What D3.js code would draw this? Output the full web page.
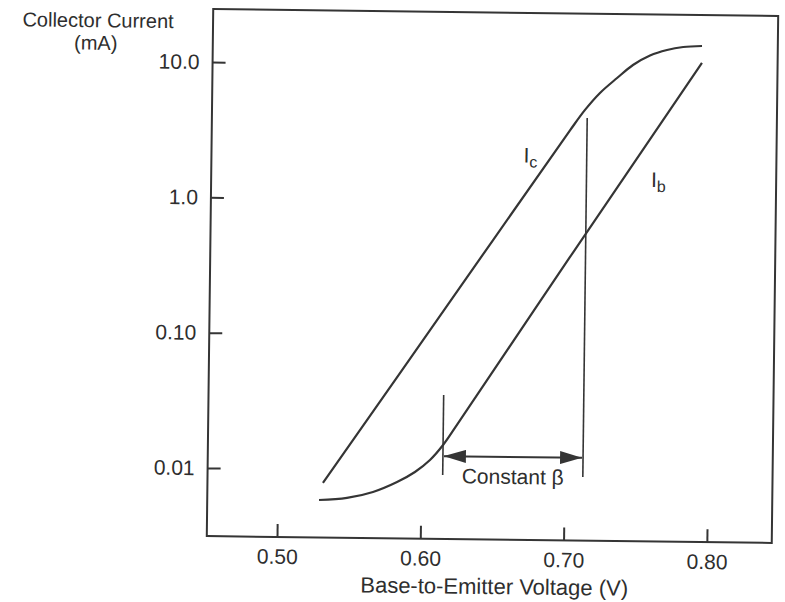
<!DOCTYPE html>
<html>
<head>
<meta charset="utf-8">
<script src="https://cdn.jsdelivr.net/npm/d3@7"></script>
<style>
  html, body { margin: 0; padding: 0; background: #fff; }
  svg { display: block; }
  text { font-family: "Liberation Sans", Arial, Helvetica, sans-serif; fill: #2e2e2e; }
</style>
</head>
<body>
<script>
// Base-emitter voltage (V) and currents (mA) for the two transistor curves
const icVoltage = [0.5316, 0.6187, 0.7010, 0.7113, 0.7216, 0.7334, 0.7444, 0.7562, 0.7680, 0.7793, 0.7924];
const icCurrent = [0.00793, 0.178, 3.366, 4.78, 6.40, 8.28, 10.37, 12.24, 13.49, 14.23, 14.54];

const ibVoltage = [0.5290, 0.5485, 0.5666, 0.5833, 0.5957, 0.6061, 0.6151, 0.6268, 0.7021, 0.7925];
const ibCurrent = [0.00593, 0.00618, 0.00688, 0.00819, 0.00975, 0.01199, 0.01551, 0.0238, 0.3905, 10.89];

// Axis ticks
const xTickValues = [0.50, 0.60, 0.70, 0.80];
const xTickLabels = ["0.50", "0.60", "0.70", "0.80"];
const yTickValues = [0.01, 0.1, 1, 10];
const yTickLabels = ["0.01", "0.10", "1.0", "10.0"];

// Axis extents
const xDomain = [0.4510, 0.8453];
const yDomain = [0.003138, 24.6];

// Constant-beta annotation (voltages of the two markers, currents of their ends)
const betaVoltage = [0.6151, 0.7129];
const betaLeftSpan = [0.00931, 0.0363];
const betaRightSpan = [0.00928, 4.17];
const betaArrowCurrent = 0.01284;

const W = 785, H = 602;
const frame = { left: 210, right: 775, top: 12.5, bottom: 539.5 };
const ink = "#353535";
const font = "'Liberation Sans', Arial, Helvetica, sans-serif";

const svg = d3.select("body").append("svg")
  .attr("width", W).attr("height", H);

const defs = svg.append("defs");
defs.append("marker")
  .attr("id", "head")
  .attr("viewBox", "0 0 22 13")
  .attr("refX", 22).attr("refY", 6.5)
  .attr("markerWidth", 22).attr("markerHeight", 13)
  .attr("markerUnits", "userSpaceOnUse")
  .attr("orient", "auto-start-reverse")
  .append("path")
  .attr("d", "M0,0 L22,6.5 L0,13 Z")
  .attr("fill", ink);

// The printed figure sits at a slight tilt on the page
const g = svg.append("g").attr("transform", "rotate(0.7, 490, 275)");

const x = d3.scaleLinear().domain(xDomain).range([frame.left, frame.right]);
const y = d3.scaleLog().domain(yDomain).range([frame.bottom, frame.top]);

// Plot frame
g.append("rect")
  .attr("x", frame.left).attr("y", frame.top)
  .attr("width", frame.right - frame.left)
  .attr("height", frame.bottom - frame.top)
  .attr("fill", "none").attr("stroke", ink).attr("stroke-width", 2);

// Bottom axis: inward ticks, labels below
const xAxis = d3.axisBottom(x)
  .tickValues(xTickValues)
  .tickFormat((d, i) => xTickLabels[i])
  .tickSize(-13)
  .tickPadding(12);
const gx = g.append("g")
  .attr("transform", `translate(0,${frame.bottom})`)
  .call(xAxis);
gx.select(".domain").remove();
gx.selectAll(".tick line").attr("stroke", ink).attr("stroke-width", 2);
gx.selectAll(".tick text")
  .attr("font-size", 21).attr("fill", "#2e2e2e")
  .style("font-family", font);

// Left axis: inward ticks, labels to the left
const yAxis = d3.axisLeft(y)
  .tickValues(yTickValues)
  .tickFormat((d, i) => yTickLabels[i])
  .tickSize(-13)
  .tickPadding(13);
const gy = g.append("g")
  .attr("transform", `translate(${frame.left},0)`)
  .call(yAxis);
gy.select(".domain").remove();
gy.selectAll(".tick line").attr("stroke", ink).attr("stroke-width", 2);
gy.selectAll(".tick text")
  .attr("font-size", 21).attr("fill", "#2e2e2e")
  .style("font-family", font);

// Axis titles
g.append("text")
  .attr("x", 95).attr("y", 32)
  .attr("text-anchor", "middle")
  .attr("font-size", 20)
  .text("Collector Current");
g.append("text")
  .attr("x", 93).attr("y", 54.5)
  .attr("text-anchor", "middle")
  .attr("font-size", 20)
  .text("(mA)");
g.append("text")
  .attr("x", 498).attr("y", 594)
  .attr("text-anchor", "middle")
  .attr("font-size", 22)
  .text("Base-to-Emitter Voltage (V)");

// Curves
const line = d3.line()
  .x(d => x(d[0]))
  .y(d => y(d[1]))
  .curve(d3.curveCatmullRom.alpha(0.5));

const icData = icVoltage.map((v, i) => [v, icCurrent[i]]);
const ibData = ibVoltage.map((v, i) => [v, ibCurrent[i]]);

g.append("path").datum(icData)
  .attr("d", line)
  .attr("fill", "none").attr("stroke", ink).attr("stroke-width", 2.2);
g.append("path").datum(ibData)
  .attr("d", line)
  .attr("fill", "none").attr("stroke", ink).attr("stroke-width", 2.2);

// Curve labels
const lc = g.append("text").attr("x", 522).attr("y", 162).attr("font-size", 21);
lc.append("tspan").text("I");
lc.append("tspan").attr("font-size", 16).attr("dy", 5).text("c");
const lb = g.append("text").attr("x", 650).attr("y", 185).attr("font-size", 21);
lb.append("tspan").text("I");
lb.append("tspan").attr("font-size", 16).attr("dy", 5).text("b");

// Constant-beta markers
g.append("line")
  .attr("x1", x(betaVoltage[0])).attr("x2", x(betaVoltage[0]))
  .attr("y1", y(betaLeftSpan[0])).attr("y2", y(betaLeftSpan[1]))
  .attr("stroke", ink).attr("stroke-width", 1.6);
g.append("line")
  .attr("x1", x(betaVoltage[1])).attr("x2", x(betaVoltage[1]))
  .attr("y1", y(betaRightSpan[0])).attr("y2", y(betaRightSpan[1]))
  .attr("stroke", ink).attr("stroke-width", 1.6);
g.append("line")
  .attr("x1", x(betaVoltage[0]) + 1).attr("x2", x(betaVoltage[1]) - 1)
  .attr("y1", y(betaArrowCurrent)).attr("y2", y(betaArrowCurrent))
  .attr("stroke", ink).attr("stroke-width", 2)
  .attr("marker-start", "url(#head)")
  .attr("marker-end", "url(#head)");
g.append("text")
  .attr("x", (x(betaVoltage[0]) + x(betaVoltage[1])) / 2)
  .attr("y", y(betaArrowCurrent) + 27)
  .attr("text-anchor", "middle")
  .attr("font-size", 21)
  .text("Constant β");
</script>
</body>
</html>
